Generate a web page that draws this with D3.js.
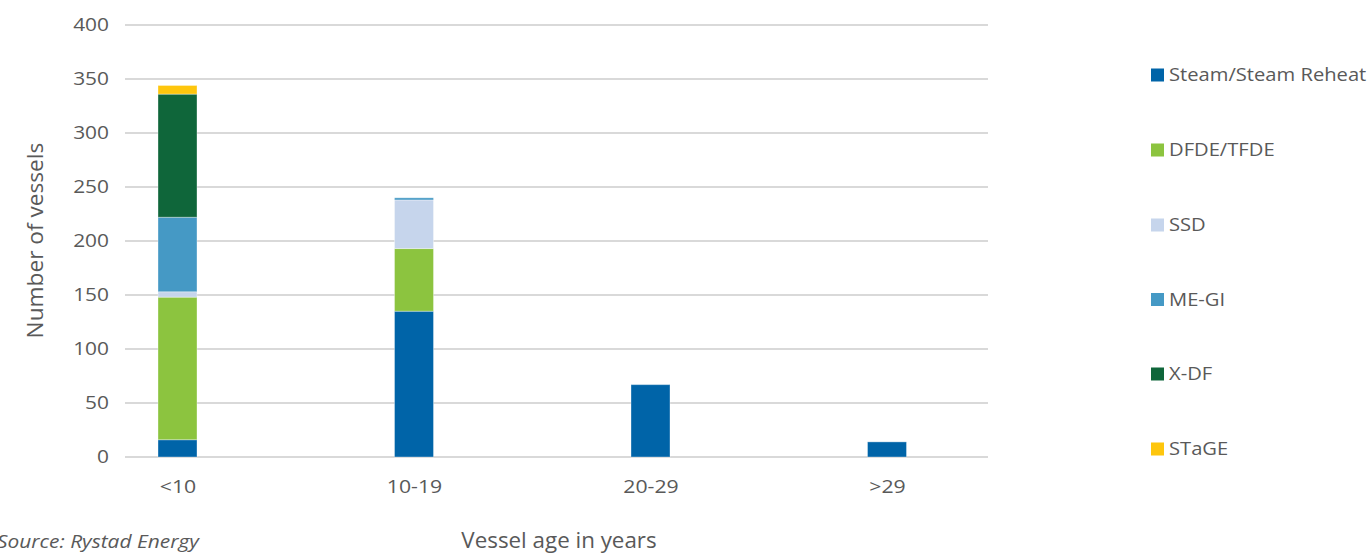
<!DOCTYPE html>
<html>
<head>
<meta charset="utf-8">
<script src="https://cdn.jsdelivr.net/npm/d3@7"></script>
<style>
  html, body { margin: 0; padding: 0; background: #ffffff; overflow: hidden; }
  svg { display: block; font-family: "Open Sans", "Noto Sans", sans-serif; }
</style>
</head>
<body>
<svg id="chart" width="1371" height="554"></svg>
<script>
const categories = ["<10", "10-19", "20-29", ">29"];
const seriesNames = ["Steam/Steam Reheat", "DFDE/TFDE", "SSD", "ME-GI", "X-DF", "STaGE"];
const steam = [16, 135, 67, 14];
const dfde  = [132, 58, 0, 0];
const ssd   = [5, 45, 0, 0];
const megi  = [69, 2, 0, 0];
const xdf   = [114, 0, 0, 0];
const stage = [8, 0, 0, 0];
const yTicks = [0, 50, 100, 150, 200, 250, 300, 350, 400];
const colors = ["#0064a8", "#8cc43f", "#c6d5ec", "#4599c5", "#0f663a", "#fec60d"];

const seriesValues = [steam, dfde, ssd, megi, xdf, stage];
const rows = categories.map((c, i) => {
  const r = { cat: c };
  seriesNames.forEach((s, j) => r[s] = seriesValues[j][i]);
  return r;
});

const svg = d3.select("#chart");
const gridLeft = 125, gridRight = 988;

const y = d3.scaleLinear().domain([0, 400]).range([457, 25]);
const x = d3.scalePoint().domain(categories).range([177.5, 887]);
const barW = 39;

// gridlines
svg.append("g").selectAll("line").data(yTicks).join("line")
  .attr("x1", gridLeft).attr("x2", gridRight)
  .attr("y1", d => y(d)).attr("y2", d => y(d))
  .attr("stroke", "#d9d9d9").attr("stroke-width", 2);

// y tick labels
const yAxis = d3.axisLeft(y).tickValues(yTicks).tickSize(0).tickPadding(0);
const yg = svg.append("g").attr("transform", "translate(109,0)").call(yAxis);
yg.select(".domain").remove();
yg.selectAll("text").attr("font-size", 18).attr("fill", "#595959")
  .attr("font-family", "'Open Sans', sans-serif")
  .attr("transform", "scale(1.16,1)");

// x tick labels
const xAxis = d3.axisBottom(x).tickSize(0).tickPadding(0);
const xg = svg.append("g").attr("transform", "translate(0,480)").call(xAxis);
xg.select(".domain").remove();
xg.selectAll("text").attr("font-size", 18).attr("fill", "#595959")
  .attr("font-family", "'Open Sans', sans-serif")
  .attr("transform", "scale(1.18,1)");

// stacked bars
const stack = d3.stack().keys(seriesNames)(rows);
svg.append("g").selectAll("g").data(stack).join("g")
  .attr("fill", (d, i) => colors[i])
  .selectAll("rect").data(d => d.filter(p => p[1] - p[0] > 0)).join("rect")
  .attr("x", d => x(d.data.cat) - barW / 2)
  .attr("width", barW)
  .attr("y", d => y(d[1]))
  .attr("height", d => y(d[0]) - y(d[1]))
  .attr("stroke", "rgba(255,255,255,0.35)")
  .attr("stroke-width", 1);

// y axis title
svg.append("text")
  .attr("transform", "translate(43,240.5) rotate(-90) scale(1.08,1)")
  .attr("text-anchor", "middle")
  .attr("font-size", 21).attr("fill", "#595959")
  .text("Number of vessels");

// x axis title
svg.append("text")
  .attr("transform", "translate(559,548) scale(1.065,1)")
  .attr("text-anchor", "middle")
  .attr("font-size", 21).attr("fill", "#595959")
  .text("Vessel age in years");

// source
svg.append("text")
  .attr("transform", "translate(-3,548) scale(1.1,1)")
  .attr("font-size", 19).attr("font-style", "italic").attr("fill", "#595959")
  .text("Source: Rystad Energy");

// legend
const legendY = [75, 150, 225, 299.5, 374, 449];
const lg = svg.append("g").selectAll("g").data(seriesNames).join("g")
  .attr("transform", (d, i) => `translate(1151,${legendY[i]})`);
lg.append("rect").attr("x", 0).attr("y", -6.5).attr("width", 13).attr("height", 13)
  .attr("fill", (d, i) => colors[i]);
lg.append("text").attr("transform", "translate(18,0) scale(1.12,1)").attr("dy", "0.35em")
  .attr("font-size", 18).attr("fill", "#595959")
  .text(d => d);
</script>
</body>
</html>
